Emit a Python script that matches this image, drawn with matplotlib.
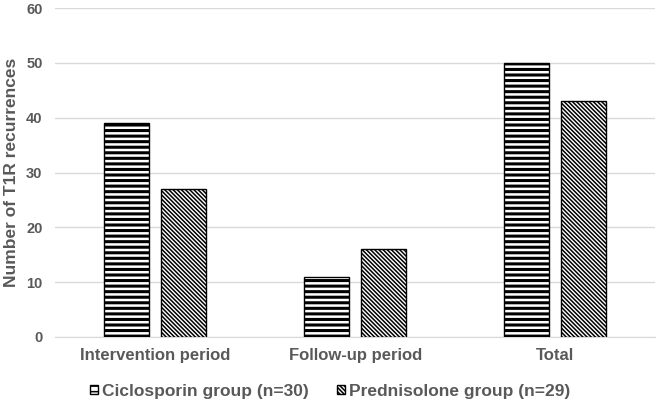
import numpy as np
import matplotlib
matplotlib.use("Agg")
import matplotlib.pyplot as plt

plt.rcParams["font.family"] = ["Liberation Sans", "DejaVu Sans"]

categories = ["Intervention period", "Follow-up period", "Total"]
ciclosporin = [39, 11, 50]
prednisolone = [27, 16, 43]
series_names = ["Ciclosporin group (n=30)", "Prednisolone group (n=29)"]

TEXT = "#595959"
GRID = "#d9d9d9"

fig = plt.figure(figsize=(6.59, 4.04), dpi=100)
ax = fig.add_axes([0.0835, 0.166, 0.911, 0.814])

x = np.arange(len(categories))
w = 0.225
off = 0.1425
# thick horizontal stripes for ciclosporin, fine diagonals for prednisolone
plt.rcParams["hatch.linewidth"] = 2.2
ax.bar(x - off, ciclosporin, w, color="white", edgecolor="black", linewidth=1.0,
       hatch="---", label=series_names[0], zorder=3)
plt.rcParams["hatch.linewidth"] = 1.1
ax.bar(x + off, prednisolone, w, color="white", edgecolor="black", linewidth=1.0,
       hatch="\\" * 8, label=series_names[1], zorder=3)

ax.set_xlim(-0.5, 2.5)
ax.set_ylim(0, 60)
ax.set_yticks(range(0, 61, 10))
ax.set_xticks(x)
ax.set_xticklabels(categories)
ax.grid(axis="y", color=GRID, linewidth=1.0, zorder=0)
for s in ["top", "right", "left"]:
    ax.spines[s].set_visible(False)
ax.spines["bottom"].set_color(GRID)
ax.tick_params(axis="y", length=0, colors=TEXT, labelsize=10.5, pad=9)
ax.tick_params(axis="x", length=0, colors=TEXT, labelsize=12, pad=8)
for lab in ax.get_xticklabels() + ax.get_yticklabels():
    lab.set_fontweight("bold")
ax.set_ylabel("Number of T1R recurrences", fontsize=12.5, fontweight="bold", color=TEXT, labelpad=5)

leg = ax.legend(loc="upper center", bbox_to_anchor=(0.458, -0.095), ncol=2, frameon=False,
                handlelength=0.46, handleheight=0.46, handletextpad=0.25, columnspacing=1.6,
                prop={"weight": "bold", "size": 12.5})
for t in leg.get_texts():
    t.set_color(TEXT)

plt.savefig("out.png", dpi=100)
